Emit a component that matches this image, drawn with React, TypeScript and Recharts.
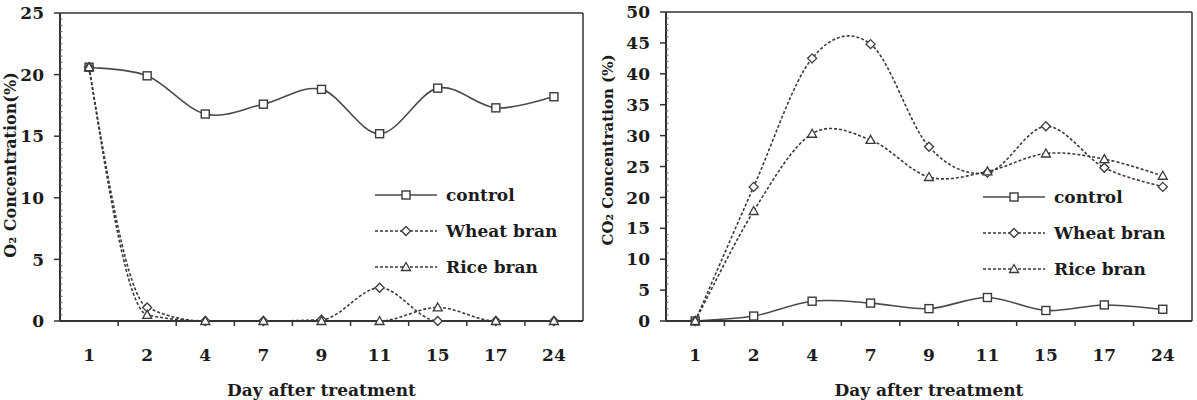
import React from 'react';
import { LineChart, Line, XAxis, YAxis, ReferenceLine, Legend, Label } from 'recharts';

// days after treatment (x categories)
const days = ['1', '2', '4', '7', '9', '11', '15', '17', '24'];

// O2 concentration (%)
const o2Control = [20.6, 19.9, 16.8, 17.6, 18.8, 15.2, 18.9, 17.3, 18.2];
const o2Wheat = [20.6, 1.1, 0, 0, 0.1, 2.7, 0, 0, 0];
const o2Rice = [20.6, 0.5, 0, 0, 0, 0, 1.1, 0, 0];

// CO2 concentration (%)
const co2Control = [0, 0.8, 3.2, 2.9, 2.0, 3.8, 1.7, 2.6, 1.9];
const co2Wheat = [0, 21.7, 42.5, 44.8, 28.2, 24.0, 31.5, 24.8, 21.7];
const co2Rice = [0, 17.8, 30.3, 29.3, 23.3, 24.2, 27.1, 26.2, 23.5];

const o2Ticks = [0, 5, 10, 15, 20, 25];
const co2Ticks = [0, 5, 10, 15, 20, 25, 30, 35, 40, 45, 50];

const FONT = "'DejaVu Serif', 'Liberation Serif', serif";
const INK = '#1c1c1c';
const AXIS = '#333';

const X_TICK_SIZE = 5;
const X_TICK_MARGIN = 23;
const Y_TICK_SIZE = 6;
const Y_TICK_MARGIN = 10;

const buildRows = (control: number[], wheat: number[], rice: number[]) =>
    days.map((d, i) => ({ idx: i + 1, day: d, control: control[i], wheat: wheat[i], rice: rice[i] }));

const o2Rows = buildRows(o2Control, o2Wheat, o2Rice);
const co2Rows = buildRows(co2Control, co2Wheat, co2Rice);

// label ticks at the categories, tick marks between them
const xTicks = days.flatMap((_, i) => (i < days.length - 1 ? [i + 1, i + 1.5] : [i + 1]));

const minorTicks = (max: number, step: number) =>
    Array.from({ length: Math.round(max / step) + 1 }, (_, i) => +(i * step).toFixed(2));

// spreadsheet-style smoothed line (catmull-rom through the points)
const smoothCurve = (context: any) => {
    let pts: number[][] = [];
    return {
        areaStart() {},
        areaEnd() {},
        lineStart() {
            pts = [];
        },
        point(x: number, y: number) {
            pts.push([+x, +y]);
        },
        lineEnd() {
            if (!pts.length) return;
            context.moveTo(pts[0][0], pts[0][1]);
            for (let i = 0; i < pts.length - 1; i++) {
                const p0 = pts[i - 1] || pts[i];
                const p1 = pts[i];
                const p2 = pts[i + 1];
                const p3 = pts[i + 2] || p2;
                context.bezierCurveTo(
                    p1[0] + (p2[0] - p0[0]) / 6, p1[1] + (p2[1] - p0[1]) / 6,
                    p2[0] - (p3[0] - p1[0]) / 6, p2[1] - (p3[1] - p1[1]) / 6,
                    p2[0], p2[1],
                );
            }
        },
    };
};

const square = (cx: number, cy: number, key?: string) => (
    <rect key={key} x={cx - 4} y={cy - 4} width={8} height={8} fill="#fff" stroke="#3a3a3a" strokeWidth={1.4} />
);
const diamond = (cx: number, cy: number, key?: string) => (
    <polygon key={key} points={`${cx},${cy - 4.5} ${cx + 4.5},${cy} ${cx},${cy + 4.5} ${cx - 4.5},${cy}`}
        fill="#fff" stroke="#3a3a3a" strokeWidth={1.3} />
);
const triangle = (cx: number, cy: number, key?: string) => (
    <polygon key={key} points={`${cx},${cy - 4.5} ${cx + 4.5},${cy + 3.5} ${cx - 4.5},${cy + 3.5}`}
        fill="#fff" stroke="#3a3a3a" strokeWidth={1.3} />
);

const series = [
    { key: 'control', name: 'control', dash: undefined as string | undefined, marker: square, stroke: '#4a4a4a' },
    { key: 'wheat', name: 'Wheat bran', dash: '3 2', marker: diamond, stroke: '#3a3a3a' },
    { key: 'rice', name: 'Rice bran', dash: '3 2', marker: triangle, stroke: '#3a3a3a' },
];

const dotFor = (marker: typeof square, id: string) => (p: any) =>
    p.cx == null || p.cy == null ? null : marker(p.cx, p.cy, `${id}-${p.index}`);

const XTick = (props: any) => {
    const { x, y, payload } = props;
    const v = payload.value;
    if (Number.isInteger(v)) {
        return (
            <text x={x} y={y} dy="0.71em" textAnchor="middle" fontFamily={FONT} fontWeight="bold" fontSize={17} fill={INK}>
                {days[v - 1]}
            </text>
        );
    }
    const axisY = y - X_TICK_SIZE - X_TICK_MARGIN;
    return <line x1={x} x2={x} y1={axisY} y2={axisY + X_TICK_SIZE} stroke={AXIS} strokeWidth={1.5} />;
};

const makeYTick = (major: number[]) => (props: any) => {
    const { x, y, payload } = props;
    const axisX = x + Y_TICK_SIZE + Y_TICK_MARGIN;
    if (major.includes(payload.value)) {
        return (
            <g>
                <line x1={axisX - Y_TICK_SIZE} x2={axisX} y1={y} y2={y} stroke={AXIS} strokeWidth={1.5} />
                <text x={x} y={y} dy="0.36em" textAnchor="end" fontFamily={FONT} fontWeight="bold" fontSize={17} fill={INK}>
                    {payload.value}
                </text>
            </g>
        );
    }
    return <line x1={axisX} x2={axisX + 2.5} y1={y} y2={y} stroke="#666" strokeWidth={1} />;
};

const LegendBox = (props: any) => {
    const order = series.map((s) => s.key);
    const payload = [...(props.payload || [])].sort(
        (a: any, b: any) => order.indexOf(a.dataKey) - order.indexOf(b.dataKey),
    );
    return (
        <div style={{ fontFamily: FONT }}>
            {payload.map((item: any) => {
                const s = series.find((e) => e.key === item.dataKey)!;
                return (
                    <div key={s.key} style={{ display: 'flex', alignItems: 'center', height: 36 }}>
                        <svg width={62} height={36} style={{ display: 'block' }}>
                            <line x1={0} x2={62} y1={18} y2={18} stroke={s.stroke} strokeWidth={1.6} strokeDasharray={s.dash} />
                            {s.marker(31, 18)}
                        </svg>
                        <span style={{ marginLeft: 9, fontSize: 17, fontWeight: 'bold', color: INK, whiteSpace: 'nowrap' }}>
                            {item.value}
                        </span>
                    </div>
                );
            })}
        </div>
    );
};

type PanelProps = {
    width: number;
    rows: typeof o2Rows;
    yMax: number;
    majorTicks: number[];
    minorStep: number;
    top: number;
    right: number;
    yAxisWidth: number;
    yLabel: string;
    yLabelSize: number;
    labelCx: number;
    labelCy: number;
    legendLeft: number;
    legendTop: number;
    curves: Record<string, any>;
};

const Panel: React.FC<PanelProps> = (p) => (
    <LineChart width={p.width} height={400} data={p.rows} margin={{ top: p.top, right: p.right, bottom: 0, left: 0 }}>
        <XAxis
            type="number"
            dataKey="idx"
            domain={[0.5, 9.5]}
            ticks={xTicks}
            interval={0}
            tick={XTick}
            tickLine={false}
            tickSize={X_TICK_SIZE}
            tickMargin={X_TICK_MARGIN}
            height={79}
            axisLine={{ stroke: AXIS, strokeWidth: 2 }}
        >
            <Label
                content={({ viewBox }: any) => (
                    <text x={viewBox.x + viewBox.width / 2} y={viewBox.y + viewBox.height - 10} dy="0.35em" textAnchor="middle"
                        fontFamily={FONT} fontWeight="bold" fontSize={17} fill={INK}>
                        Day after treatment
                    </text>
                )}
            />
        </XAxis>
        <YAxis
            type="number"
            domain={[0, p.yMax]}
            ticks={minorTicks(p.yMax, p.minorStep)}
            interval={0}
            tick={makeYTick(p.majorTicks)}
            tickLine={false}
            tickSize={Y_TICK_SIZE}
            tickMargin={Y_TICK_MARGIN}
            width={p.yAxisWidth}
            axisLine={{ stroke: AXIS, strokeWidth: 2 }}
        >
            <Label
                content={() => (
                    <text x={p.labelCx} y={p.labelCy} dy="0.35em" textAnchor="middle" transform={`rotate(-90, ${p.labelCx}, ${p.labelCy})`}
                        fontFamily={FONT} fontWeight="bold" fontSize={p.yLabelSize} fill={INK}>
                        {p.yLabel}
                    </text>
                )}
            />
        </YAxis>
        <ReferenceLine y={p.yMax} stroke={AXIS} strokeWidth={1.5} />
        <ReferenceLine x={9.5} stroke={AXIS} strokeWidth={1.5} />
        {series.map((s) => (
            <Line
                key={s.key}
                dataKey={s.key}
                name={s.name}
                type={p.curves[s.key]}
                stroke={s.stroke}
                strokeWidth={1.6}
                strokeDasharray={s.dash}
                dot={dotFor(s.marker, s.key)}
                activeDot={false}
                isAnimationActive={false}
            />
        ))}
        <Legend
            layout="vertical"
            align="center"
            verticalAlign="middle"
            content={<LegendBox />}
            wrapperStyle={{ left: p.legendLeft, top: p.legendTop, width: 220 }}
        />
    </LineChart>
);

const App: React.FC = () => (
    <div style={{ position: 'absolute', left: 0, top: 0, width: 1197, height: 400, background: '#fff', overflow: 'hidden' }}>
        <div style={{ position: 'absolute', left: 0, top: 0 }}>
            <Panel
                width={600}
                rows={o2Rows}
                yMax={25}
                majorTicks={o2Ticks}
                minorStep={0.5}
                top={13}
                right={17}
                yAxisWidth={60}
                yLabel="O₂ Concentration(%)"
                yLabelSize={16}
                labelCx={10}
                labelCy={165}
                legendLeft={375}
                legendTop={177}
                curves={{ control: smoothCurve, wheat: 'monotone', rice: 'monotone' }}
            />
        </div>
        <div style={{ position: 'absolute', left: 600, top: 0 }}>
            <Panel
                width={597}
                rows={co2Rows}
                yMax={50}
                majorTicks={co2Ticks}
                minorStep={1}
                top={12}
                right={5}
                yAxisWidth={66}
                yLabel="CO₂ Concentration (%)"
                yLabelSize={15}
                labelCx={8}
                labelCy={150}
                legendLeft={383}
                legendTop={179}
                curves={{ control: smoothCurve, wheat: smoothCurve, rice: smoothCurve }}
            />
        </div>
    </div>
);

export default App;
